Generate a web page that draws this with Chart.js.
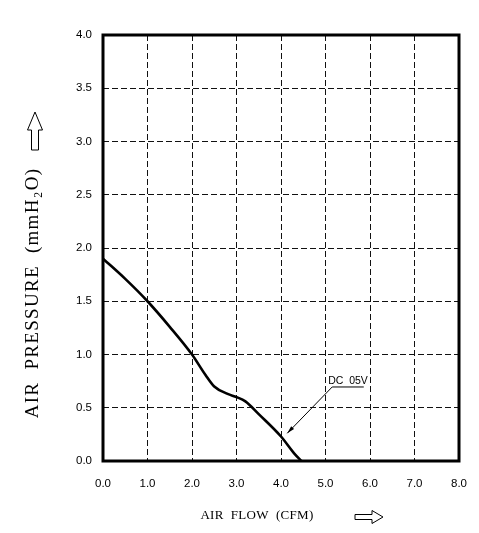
<!DOCTYPE html>
<html>
<head>
<meta charset="utf-8">
<script src="https://cdn.jsdelivr.net/npm/chart.js@4"></script>
<style>
  html, body { margin: 0; padding: 0; background: #fff; }
  #wrap { width: 479px; height: 533px; }
</style>
</head>
<body>
<div id="wrap"><canvas id="fan-chart" width="479" height="533"></canvas></div>
<script>
// P-Q curve
const airFlow = [0, 0.5, 1.0, 1.5, 2.0, 2.3, 2.5, 2.8, 3.0, 3.2, 3.5, 4.0, 4.3, 4.46]
const airPressure = [1.9, 1.71, 1.5, 1.26, 1.0, 0.81, 0.7, 0.63, 0.6, 0.56, 0.44, 0.23, 0.07, 0]

const xTicks = [0, 1, 2, 3, 4, 5, 6, 7, 8]
const yTicks = [0, 0.5, 1.0, 1.5, 2.0, 2.5, 3.0, 3.5, 4.0]

const seriesLabel = 'DC  05V'
const labelAt = [5.15, 0.695], labelEnd = [5.86, 0.695], arrowTip = [4.14, 0.26]

const xTitle = 'AIR  FLOW  (CFM)'
const yTitle = 'AIR  PRESSURE  (mmH\u2082O)'

const ctx = document.getElementById('fan-chart')

const drawHollowArrow = (c, len, shaft, head, headLen) => {
    // arrow pointing along +x starting at origin
    c.beginPath()
    c.moveTo(0, -shaft / 2)
    c.lineTo(len - headLen, -shaft / 2)
    c.lineTo(len - headLen, -head / 2)
    c.lineTo(len, 0)
    c.lineTo(len - headLen, head / 2)
    c.lineTo(len - headLen, shaft / 2)
    c.lineTo(0, shaft / 2)
    c.closePath()
    c.stroke()
}

const framePlugin = {
    id: 'frame',
    afterDatasetsDraw(chart) {
        const c = chart.ctx, a = chart.chartArea
        const xs = chart.scales.x, ys = chart.scales.y
        c.save()
        c.strokeStyle = '#000'
        c.lineWidth = 3
        c.strokeRect(a.left, a.top, a.right - a.left, a.bottom - a.top)

        // series label with leader
        const lx = xs.getPixelForValue(labelAt[0]), ly = ys.getPixelForValue(labelAt[1])
        const ex = xs.getPixelForValue(labelEnd[0])
        const tx = xs.getPixelForValue(arrowTip[0]), ty = ys.getPixelForValue(arrowTip[1])
        c.lineWidth = 1
        c.beginPath()
        c.moveTo(ex, ly)
        c.lineTo(lx, ly)
        c.lineTo(tx, ty)
        c.stroke()
        const ang = Math.atan2(ty - ly, tx - lx)
        c.beginPath()
        c.moveTo(tx, ty)
        c.lineTo(tx - 8 * Math.cos(ang - 0.25), ty - 8 * Math.sin(ang - 0.25))
        c.lineTo(tx - 8 * Math.cos(ang + 0.25), ty - 8 * Math.sin(ang + 0.25))
        c.closePath()
        c.fillStyle = '#000'
        c.fill()
        c.font = '10.5px "Liberation Sans"'
        c.textAlign = 'left'
        c.textBaseline = 'bottom'
        c.fillText(seriesLabel, lx - 4, ly - 1)

        // axis titles
        c.fillStyle = '#000'
        c.font = '13px "Liberation Serif"'
        c.letterSpacing = '0.3px'
        c.textAlign = 'center'
        c.textBaseline = 'middle'
        c.fillText(xTitle, 257, 516)

        c.save()
        c.translate(33, 293)
        c.rotate(-Math.PI / 2)
        c.font = '19px "Liberation Serif"'
        c.letterSpacing = '1.3px'
        c.fillText(yTitle, 0, 0)
        c.restore()
        c.letterSpacing = '0px'

        c.lineWidth = 1
        c.save()
        c.translate(355, 517)
        drawHollowArrow(c, 28, 5, 13, 11)
        c.restore()
        c.save()
        c.translate(35, 150)
        c.rotate(-Math.PI / 2)
        drawHollowArrow(c, 38, 7, 15, 18)
        c.restore()
        c.restore()
    }
}

const myChart = new Chart(ctx, {
    type: 'line',
    data: {
        datasets: [{
            label: seriesLabel,
            data: airFlow.map((x, i) => ({ x: x, y: airPressure[i] })),
            borderColor: '#000',
            borderWidth: 2.6,
            pointRadius: 0,
            fill: false,
            cubicInterpolationMode: 'monotone'
        }]
    },
    options: {
        responsive: false,
        animation: false,
        layout: { padding: { top: 35, right: 20, left: 0, bottom: 0 } },
        plugins: { legend: { display: false }, tooltip: { enabled: false } },
        scales: {
            x: {
                type: 'linear',
                min: 0, max: 8,
                afterBuildTicks: s => { s.ticks = xTicks.map(v => ({ value: v })) },
                afterFit: s => { s.height = 72; s.paddingLeft = 0; s.paddingRight = 0 },
                grid: { color: '#111', lineWidth: 1, drawTicks: false },
                border: { display: false, dash: [6, 3] },
                ticks: {
                    padding: 16,
                    color: '#000',
                    font: { family: 'Liberation Sans', size: 11.5 },
                    callback: v => v.toFixed(1)
                }
            },
            y: {
                min: 0, max: 4,
                afterBuildTicks: s => { s.ticks = yTicks.map(v => ({ value: v })) },
                afterFit: s => { s.width = 103 },
                grid: { color: '#111', lineWidth: 1, drawTicks: false },
                border: { display: false, dash: [6, 3] },
                ticks: {
                    padding: 11,
                    color: '#000',
                    font: { family: 'Liberation Sans', size: 11.5 },
                    callback: v => v.toFixed(1)
                }
            }
        }
    },
    plugins: [framePlugin]
})
</script>
</body>
</html>
